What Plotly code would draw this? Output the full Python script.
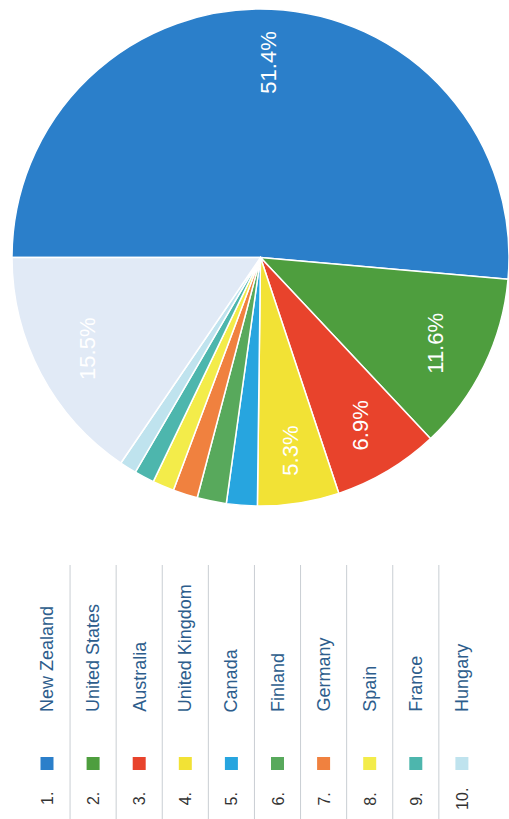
import math
import plotly.graph_objects as go

# Share of respondents by country (percent)
countries = ["New Zealand", "United States", "Australia", "United Kingdom", "Canada",
             "Finland", "Germany", "Spain", "France", "Hungary"]
shares = [51.4, 11.6, 6.9, 5.3, 2.0, 1.9, 1.6, 1.4, 1.3, 1.1]
other_label = "Other"
other_share = 15.5

colors = ["#2b7fca", "#4e9e3e", "#e8432c", "#f2e235", "#27a5df",
          "#58a95c", "#f0813f", "#f3ec4a", "#4db6ad", "#bfe3ee"]
other_color = "#e1eaf6"

W, H = 509, 819
FONT = "Liberation Sans, Arial, Helvetica, sans-serif"

labels = countries + [other_label]
values = shares + [other_share]
slice_colors = colors + [other_color]

# pie placement (pixels from top-left)
pie_left, pie_right = 12, 509
pie_top, pie_bottom = 9, 506
start_angle = -90  # first slice starts at 9 o'clock

fig = go.Figure()
fig.add_trace(go.Pie(
    labels=labels,
    values=values,
    sort=False,
    direction="clockwise",
    rotation=start_angle,
    marker=dict(colors=slice_colors, line=dict(color="white", width=1.5)),
    textinfo="none",
    hoverinfo="label+percent",
    showlegend=False,
    domain=dict(x=[pie_left / W, pie_right / W],
                y=[1 - pie_bottom / H, 1 - pie_top / H]),
))

annotations = []
shapes = []

# percentage labels, written sideways inside the larger slices
cx = (pie_left + pie_right) / 2
cy = (pie_top + pie_bottom) / 2
r = min(pie_right - pie_left, pie_bottom - pie_top) / 2
total = sum(values)
cum = 0.0
for lab, v in zip(labels, values):
    mid = start_angle + 360.0 * (cum + v / 2) / total
    cum += v
    if v < 5:
        continue
    a = math.radians(mid)
    px = cx + 0.785 * r * math.sin(a)
    py = cy - 0.785 * r * math.cos(a)
    annotations.append(dict(
        x=px / W, y=1 - py / H, xref="paper", yref="paper",
        text=f"{v:.1f}%", showarrow=False, textangle=-90,
        xanchor="center", yanchor="middle",
        font=dict(family=FONT, size=22, color="white"),
    ))

# sideways legend table
col0, col_step = 47, 46.1
for i, (name, col) in enumerate(zip(countries, colors)):
    x = col0 + i * col_step
    annotations.append(dict(
        x=x / W, y=1 - 799 / H, xref="paper", yref="paper",
        text=f"{i + 1}.", showarrow=False, textangle=-90,
        xanchor="center", yanchor="middle",
        font=dict(family=FONT, size=16, color="#333333"),
    ))
    annotations.append(dict(
        x=x / W, y=1 - 714 / H, xref="paper", yref="paper",
        text=name, showarrow=False, textangle=-90,
        xanchor="center", yanchor="bottom",
        font=dict(family=FONT, size=18, color="#2d5d8c"),
    ))
    shapes.append(dict(
        type="rect", xref="paper", yref="paper",
        x0=(x - 6.5) / W, x1=(x + 6.5) / W,
        y0=1 - 770 / H, y1=1 - 757 / H,
        fillcolor=col, line=dict(width=0),
    ))
    if i < len(countries) - 1:
        sx = x + col_step / 2
        shapes.append(dict(
            type="line", xref="paper", yref="paper",
            x0=sx / W, x1=sx / W, y0=0, y1=1 - 565 / H,
            line=dict(color="#c9ced3", width=1),
        ))

fig.update_layout(
    width=W, height=H,
    margin=dict(l=0, r=0, t=0, b=0),
    paper_bgcolor="white",
    plot_bgcolor="white",
    annotations=annotations,
    shapes=shapes,
)

fig.write_html("out.html")
